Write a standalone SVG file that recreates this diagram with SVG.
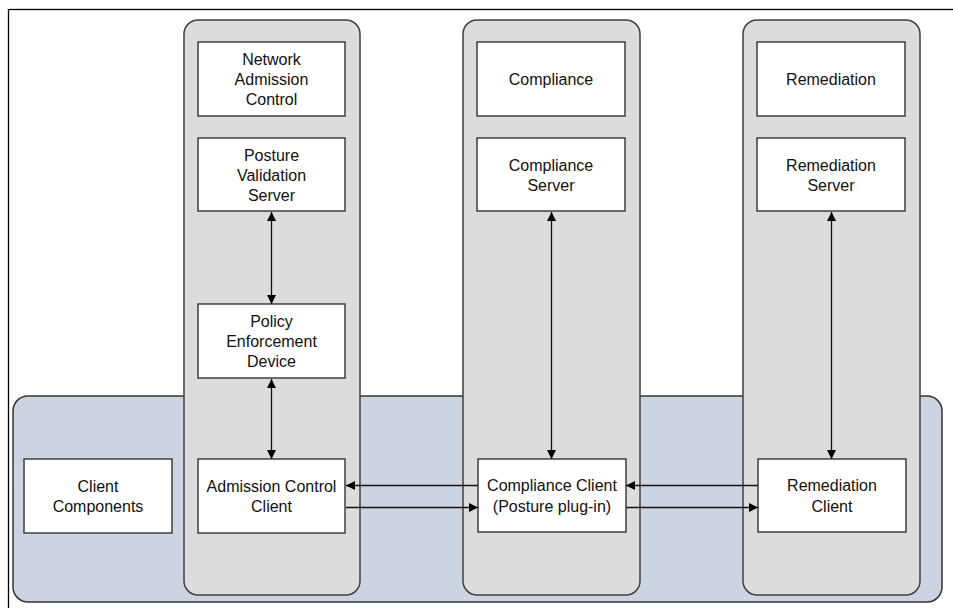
<svg xmlns="http://www.w3.org/2000/svg" width="953" height="608" viewBox="0 0 953 608">
  <defs>
    <pattern id="dots" width="2" height="2" patternUnits="userSpaceOnUse">
      <rect width="2" height="2" fill="#d6dde8"/>
      <rect width="1" height="1" fill="#c2ccd9"/>
      <rect x="1" y="1" width="1" height="1" fill="#c2ccd9"/>
    </pattern>
    <marker id="ah" viewBox="0 0 10 10" refX="10" refY="5" markerWidth="9" markerHeight="9" markerUnits="userSpaceOnUse" orient="auto-start-reverse">
      <path d="M0,0 L10,5 L0,10 Z" fill="#000"/>
    </marker>
    <style>
      .frame { fill: #fff; stroke: #000; stroke-width: 1.3; }
      .region { fill: url(#dots); stroke: #333; stroke-width: 1.5; }
      .column { fill: #dcdcdc; stroke: #404040; stroke-width: 1.5; }
      .box { fill: #fff; stroke: #333; stroke-width: 1.4; }
      .lbl { font-family: "Liberation Sans", Arial, sans-serif; font-size: 16px; fill: #111; text-anchor: middle; }
      .conn { stroke: #111; stroke-width: 1.3; fill: none; }
    </style>
  </defs>

  <!-- outer frame -->
  <rect class="frame" x="8.5" y="9.5" width="960" height="620"/>

  <!-- client side band -->
  <g id="client-band">
    <rect class="region" x="13" y="396" width="929" height="206" rx="15" ry="15"/>
  </g>

  <!-- vertical columns -->
  <g id="col-nac"><rect class="column" x="184" y="20" width="176" height="575" rx="14" ry="14"/></g>
  <g id="col-compliance"><rect class="column" x="463" y="20" width="177" height="575" rx="14" ry="14"/></g>
  <g id="col-remediation"><rect class="column" x="743" y="20" width="177" height="575" rx="14" ry="14"/></g>

  <!-- connectors -->
  <g id="connectors">
    <line class="conn" x1="271.5" y1="212" x2="271.5" y2="304" marker-start="url(#ah)" marker-end="url(#ah)"/>
    <line class="conn" x1="271.5" y1="379" x2="271.5" y2="459" marker-start="url(#ah)" marker-end="url(#ah)"/>
    <line class="conn" x1="551.5" y1="212" x2="551.5" y2="459" marker-start="url(#ah)" marker-end="url(#ah)"/>
    <line class="conn" x1="831.5" y1="212" x2="831.5" y2="459" marker-start="url(#ah)" marker-end="url(#ah)"/>
    <line class="conn" x1="478" y1="485.5" x2="346" y2="485.5" marker-end="url(#ah)"/>
    <line class="conn" x1="346" y1="507.5" x2="478" y2="507.5" marker-end="url(#ah)"/>
    <line class="conn" x1="758" y1="485.5" x2="626" y2="485.5" marker-end="url(#ah)"/>
    <line class="conn" x1="626" y1="507.5" x2="758" y2="507.5" marker-end="url(#ah)"/>
  </g>

  <!-- nodes -->
  <g id="network-admission-control">
    <rect class="box" x="198" y="42" width="147" height="74"/>
    <text class="lbl" x="271.5" y="65">Network</text>
    <text class="lbl" x="271.5" y="85">Admission</text>
    <text class="lbl" x="271.5" y="105">Control</text>
  </g>
  <g id="posture-validation-server">
    <rect class="box" x="198" y="138" width="147" height="73"/>
    <text class="lbl" x="271.5" y="161">Posture</text>
    <text class="lbl" x="271.5" y="181">Validation</text>
    <text class="lbl" x="271.5" y="201">Server</text>
  </g>
  <g id="policy-enforcement-device">
    <rect class="box" x="198" y="304" width="147" height="74"/>
    <text class="lbl" x="271.5" y="327">Policy</text>
    <text class="lbl" x="271.5" y="347">Enforcement</text>
    <text class="lbl" x="271.5" y="367">Device</text>
  </g>
  <g id="admission-control-client">
    <rect class="box" x="198" y="459" width="147" height="74"/>
    <text class="lbl" x="271.5" y="492">Admission Control</text>
    <text class="lbl" x="271.5" y="512">Client</text>
  </g>
  <g id="client-components">
    <rect class="box" x="24" y="459" width="148" height="74"/>
    <text class="lbl" x="98" y="492">Client</text>
    <text class="lbl" x="98" y="512">Components</text>
  </g>
  <g id="compliance">
    <rect class="box" x="477" y="42" width="148" height="74"/>
    <text class="lbl" x="551" y="85">Compliance</text>
  </g>
  <g id="compliance-server">
    <rect class="box" x="477" y="138" width="148" height="73"/>
    <text class="lbl" x="551" y="171">Compliance</text>
    <text class="lbl" x="551" y="191">Server</text>
  </g>
  <g id="compliance-client">
    <rect class="box" x="478" y="459" width="148" height="73"/>
    <text class="lbl" x="552" y="491">Compliance Client</text>
    <text class="lbl" x="552" y="512">(Posture plug-in)</text>
  </g>
  <g id="remediation">
    <rect class="box" x="757" y="42" width="148" height="74"/>
    <text class="lbl" x="831" y="85">Remediation</text>
  </g>
  <g id="remediation-server">
    <rect class="box" x="757" y="138" width="148" height="73"/>
    <text class="lbl" x="831" y="171">Remediation</text>
    <text class="lbl" x="831" y="191">Server</text>
  </g>
  <g id="remediation-client">
    <rect class="box" x="758" y="459" width="148" height="73"/>
    <text class="lbl" x="832" y="491">Remediation</text>
    <text class="lbl" x="832" y="512">Client</text>
  </g>
</svg>
